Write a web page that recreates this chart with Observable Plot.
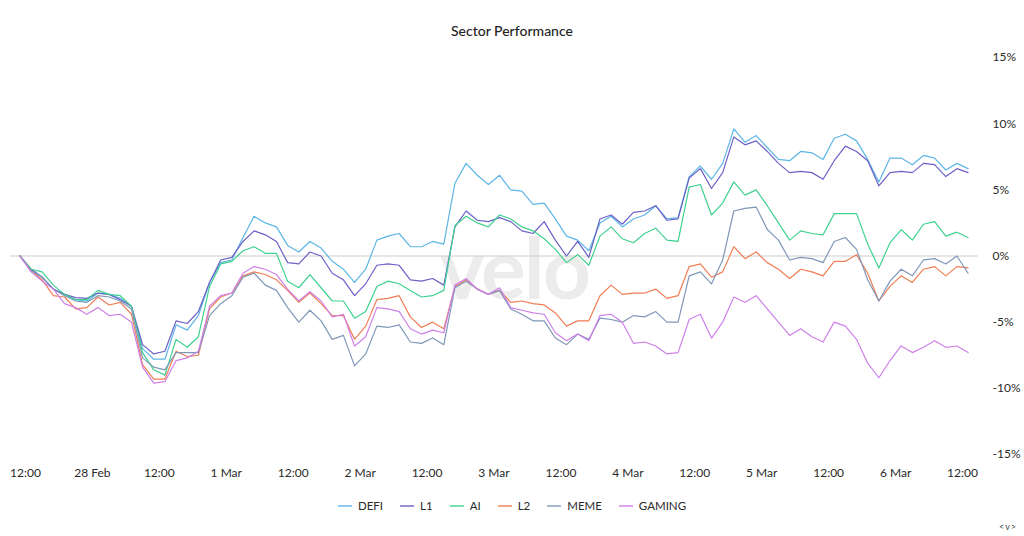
<!DOCTYPE html>
<html>
<head>
<meta charset="utf-8">
<script src="https://cdn.jsdelivr.net/npm/d3@7"></script>
<script src="https://cdn.jsdelivr.net/npm/@observablehq/plot@0.6"></script>
<style>
  html, body { margin: 0; padding: 0; background: #ffffff; }
  #wrap { position: relative; width: 1024px; height: 536px; font-family: Lato, "Noto Sans", sans-serif; overflow: hidden; }
  #title { position: absolute; top: 22px; left: 0; width: 1024px; text-align: center; font-size: 14px; color: #1f1f1f; font-weight: 500; }
  #wm { position: absolute; left: 440px; top: 225px; font-size: 84px; font-weight: 700; line-height: 1; color: #ececec; letter-spacing: -2px; }
  #chart { position: absolute; top: 50px; left: 0; }
  #legend { position: absolute; top: 499px; left: 0; width: 1024px; display: flex; justify-content: center; gap: 17px; font-size: 11.5px; color: #2a2a2a; }
  .item { display: flex; align-items: center; }
  .sw { display: inline-block; width: 14px; height: 2px; margin-right: 6px; opacity: 0.7; }
  #nav { position: absolute; left: 999px; top: 521px; font-size: 9px; color: #444; letter-spacing: 1px; }
</style>
</head>
<body>
<div id="wrap">
  <div id="title">Sector Performance</div>
  <div id="wm">velo</div>
  <div id="chart"></div>
  <div id="legend"></div>
  <div id="nav">&lt;v&gt;</div>
</div>
<script>
// ---- data (percent change), sampled every 2 hours from 27 Feb 11:00 UTC ----
const SERIES = ["DEFI", "L1", "AI", "L2", "MEME", "GAMING"];
const COLORS = ["#5db6e6", "#6b61c6", "#3fd18f", "#f07e55", "#7f98b8", "#cf80e8"];

const DEFI = [0,-1.0,-1.6,-2.5,-2.9,-3.3,-3.4,-2.8,-2.9,-3.2,-3.8,-7.0,-7.8,-7.8,-5.2,-5.6,-4.5,-2.0,-0.5,-0.3,1.4,3.0,2.5,2.2,0.8,0.3,1.1,0.6,-0.4,-1.0,-2.0,-1.0,1.2,1.5,1.7,0.7,0.7,1.1,0.9,5.5,7.0,6.1,5.4,6.1,5.0,4.9,3.9,4.0,2.8,1.5,1.2,0.4,2.5,3.0,2.2,2.8,3.1,3.8,2.8,2.9,6.0,6.8,5.8,7.0,9.6,8.6,9.1,8.2,7.3,7.2,7.9,7.8,7.3,8.9,9.2,8.7,7.3,5.6,7.4,7.4,6.9,7.6,7.4,6.5,7.0,6.6];
const L1 = [0,-1.0,-1.6,-2.5,-2.9,-3.15,-3.2,-2.8,-2.9,-3.3,-3.8,-6.7,-7.4,-7.2,-4.9,-5.1,-4.2,-2.0,-0.3,-0.1,1.1,1.9,1.6,1.1,-0.5,-0.6,0.3,0.0,-1.3,-1.8,-3.0,-2.1,-0.7,-0.6,-0.7,-1.8,-1.9,-1.7,-2.2,2.2,3.4,2.7,2.6,2.9,2.6,1.9,1.7,2.6,1.2,0,1.1,-0.1,2.8,3.1,2.4,3.3,3.4,3.8,2.7,2.8,5.9,6.6,5.1,6.3,9.0,8.4,8.7,7.9,7.0,6.3,6.4,6.3,5.8,7.2,8.3,7.9,7.2,5.3,6.3,6.4,6.3,7.0,6.9,6.0,6.6,6.3];
const AI = [0,-1.0,-1.2,-2.2,-2.9,-3.3,-3.3,-2.6,-2.9,-3.0,-3.8,-7.3,-8.6,-9.0,-6.3,-6.9,-6.1,-2.3,-0.6,-0.4,0.4,0.7,0.2,0.2,-1.9,-2.4,-1.4,-2.4,-3.4,-3.4,-4.7,-4.2,-2.3,-1.9,-2.1,-2.6,-3.1,-3.0,-2.6,2.3,3.0,2.5,2.2,3.1,2.8,2.2,1.9,1.3,0.5,-0.5,0.1,-0.7,1.5,2.2,1.3,1.0,1.7,2.1,1.2,1.1,5.2,5.4,3.1,4.0,5.6,4.6,5.0,3.8,2.5,1.2,1.9,1.7,1.6,3.2,3.2,3.2,0.9,-0.9,1.0,2.0,1.2,2.4,2.6,1.5,1.8,1.4];
const L2 = [0,-1.1,-1.8,-3.0,-3.1,-4.0,-3.9,-3.1,-3.7,-3.5,-4.4,-8.2,-9.3,-9.3,-7.2,-7.6,-7.5,-4.0,-3.1,-2.8,-1.5,-1.2,-1.4,-1.8,-2.6,-3.5,-2.8,-3.6,-4.5,-4.5,-6.3,-5.3,-3.3,-3.2,-3.0,-4.6,-5.4,-5.0,-5.5,-2.3,-1.8,-2.5,-2.9,-2.6,-3.5,-3.4,-3.6,-3.7,-4.3,-5.3,-4.9,-4.9,-3.0,-2.2,-2.9,-2.8,-2.8,-2.5,-3.2,-3.0,-0.8,-0.6,-1.6,-1.2,0.7,-0.2,0.3,-0.5,-1.0,-1.7,-1.0,-1.2,-1.5,-0.4,-0.4,0.1,-1.3,-3.4,-2.3,-1.5,-2.0,-1.0,-0.8,-1.5,-0.8,-0.9];
const MEME = [0,-1.1,-1.6,-2.5,-3.0,-3.4,-3.5,-3.0,-3.1,-3.4,-4.0,-7.7,-8.4,-8.6,-7.3,-7.3,-7.3,-4.5,-3.6,-3.0,-1.6,-1.3,-2.2,-2.6,-3.9,-5.0,-4.1,-4.9,-6.3,-6.0,-8.3,-7.4,-5.3,-5.4,-5.2,-6.5,-6.6,-6.2,-6.7,-2.4,-1.9,-2.5,-2.9,-2.6,-4.0,-4.4,-4.9,-4.9,-6.2,-6.7,-5.9,-6.3,-4.7,-4.8,-5.0,-4.5,-4.6,-4.2,-5.0,-5.0,-1.5,-1.2,-2.1,-0.3,3.4,3.6,3.7,2.0,1.2,-0.3,-0.1,-0.2,-0.5,1.1,1.4,0.5,-1.8,-3.4,-1.9,-1.0,-1.5,-0.3,-0.2,-0.6,0.0,-1.3];
const GAMING = [0,-1.2,-1.9,-2.5,-3.6,-3.9,-4.4,-3.9,-4.5,-4.4,-5.0,-8.4,-9.6,-9.5,-7.9,-7.7,-7.2,-3.8,-3.0,-2.8,-1.3,-0.8,-1.0,-1.4,-2.5,-3.4,-2.7,-3.4,-4.6,-4.4,-6.8,-6.1,-3.9,-4.0,-4.2,-5.5,-5.9,-5.6,-5.8,-2.2,-1.7,-2.5,-2.9,-2.4,-3.9,-4.1,-4.3,-4.4,-5.8,-6.4,-5.9,-6.4,-4.5,-4.4,-5.0,-6.6,-6.5,-6.8,-7.4,-7.3,-4.8,-4.4,-6.2,-5.0,-3.1,-3.5,-3.0,-4.0,-5.0,-6.0,-5.5,-6.1,-6.5,-5.0,-5.3,-6.3,-8.1,-9.2,-7.9,-6.8,-7.3,-6.9,-6.4,-6.9,-6.8,-7.3];

const START = Date.UTC(2025, 1, 27, 11);   // first sample
const STEP_HOURS = 2;

// axis ticks
const X_TICKS = [
  Date.UTC(2025,1,27,12), Date.UTC(2025,1,28,0), Date.UTC(2025,1,28,12),
  Date.UTC(2025,2,1,0), Date.UTC(2025,2,1,12), Date.UTC(2025,2,2,0), Date.UTC(2025,2,2,12),
  Date.UTC(2025,2,3,0), Date.UTC(2025,2,3,12), Date.UTC(2025,2,4,0), Date.UTC(2025,2,4,12),
  Date.UTC(2025,2,5,0), Date.UTC(2025,2,5,12), Date.UTC(2025,2,6,0), Date.UTC(2025,2,6,12)
];
const X_LABELS = ["12:00","28 Feb","12:00","1 Mar","12:00","2 Mar","12:00","3 Mar","12:00","4 Mar","12:00","5 Mar","12:00","6 Mar","12:00"];
const Y_TICKS = [15, 10, 5, 0, -5, -10, -15];
const Y_LABELS = ["15%", "10%", "5%", "0%", "-5%", "-10%", "-15%"];

// ---- build table ----
const VALUES = {DEFI, L1, AI, L2, MEME, GAMING};
const rows = [];
for (const s of SERIES) {
  VALUES[s].forEach((v, i) => {
    rows.push({series: s, time: new Date(START + i * STEP_HOURS * 3600e3), value: v});
  });
}
const xLabelMap = new Map(X_TICKS.map((t, i) => [t, X_LABELS[i]]));
const yLabelMap = new Map(Y_TICKS.map((t, i) => [t, Y_LABELS[i]]));

const chart = Plot.plot({
  width: 1024,
  height: 435,
  marginLeft: 10,
  marginRight: 46,
  marginTop: 7,
  marginBottom: 31,
  style: {background: "transparent", fontFamily: "Lato, 'Noto Sans', sans-serif", fontSize: "12px", color: "#2a2a2a"},
  x: {
    type: "utc",
    domain: [new Date(Date.UTC(2025,1,27,9,19)), new Date(Date.UTC(2025,2,6,14,52))],
    ticks: X_TICKS.map(t => new Date(t)),
    tickFormat: d => xLabelMap.get(+d),
    tickSize: 0,
    tickPadding: 14,
    label: null
  },
  y: {
    domain: [-15, 15],
    axis: "right",
    ticks: Y_TICKS,
    tickFormat: d => yLabelMap.get(d),
    tickSize: 0,
    tickPadding: 14,
    label: null
  },
  color: {domain: SERIES, range: COLORS},
  marks: [
    Plot.ruleY([0], {stroke: "#cccccc", strokeWidth: 1}),
    Plot.line(rows, {x: "time", y: "value", z: "series", stroke: "series", strokeWidth: 1.2, strokeLinejoin: "round"})
  ]
});
document.getElementById("chart").appendChild(chart);

// legend
const legend = document.getElementById("legend");
SERIES.forEach((s, i) => {
  const item = document.createElement("div");
  item.className = "item";
  const sw = document.createElement("span");
  sw.className = "sw";
  sw.style.backgroundColor = COLORS[i];
  const lab = document.createElement("span");
  lab.textContent = s;
  item.appendChild(sw);
  item.appendChild(lab);
  legend.appendChild(item);
});
</script>
</body>
</html>
